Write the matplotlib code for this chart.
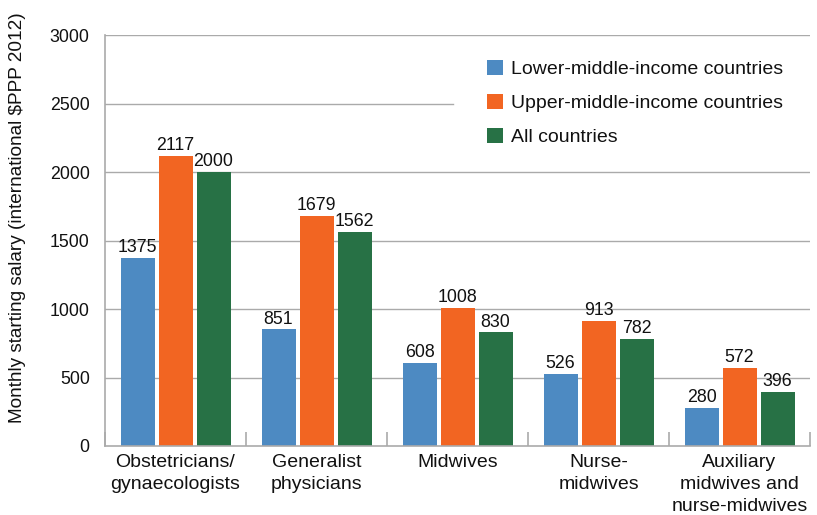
import matplotlib
matplotlib.use("Agg")
import matplotlib.pyplot as plt
import numpy as np
from matplotlib.patches import Patch

categories = ["Obstetricians/\ngynaecologists", "Generalist\nphysicians", "Midwives",
              "Nurse-\nmidwives", "Auxiliary\nmidwives and\nnurse-midwives"]
series_names = ["Lower-middle-income countries", "Upper-middle-income countries", "All countries"]
lower_middle = [1375, 851, 608, 526, 280]
upper_middle = [2117, 1679, 1008, 913, 572]
all_countries = [2000, 1562, 830, 782, 396]
yticks = [0, 500, 1000, 1500, 2000, 2500, 3000]
colors = ["#4d8ac2", "#f26522", "#277145"]

plt.rcParams['font.family'] = ['Liberation Sans', 'DejaVu Sans']

fig = plt.figure(figsize=(8.17, 5.15), dpi=100)
ax = fig.add_axes([105/817, 1-446/515, (810-105)/817, (446-35)/515])

x = np.arange(len(categories))
bw = 34/141
step = 38/141
gray = "#aaaaaa"

for yv in yticks[1:]:
    xmax = 0.494 if yv == 2500 else 1.0
    ax.axhline(yv, xmin=0, xmax=xmax, color=gray, lw=1.0, zorder=0)

for i, (vals, c) in enumerate(zip([lower_middle, upper_middle, all_countries], colors)):
    bars = ax.bar(x + (i-1)*step, vals, width=bw, color=c, zorder=2)
    for b, v in zip(bars, vals):
        ax.text(b.get_x()+b.get_width()/2, v+12, str(v), ha='center', va='bottom',
                fontsize=12.8, color='#111111')

ax.set_xlim(-0.5, len(categories)-0.5)
ax.set_ylim(0, 3000)
ax.set_yticks(yticks)
ax.set_yticklabels([str(t) for t in yticks], fontsize=12.8, color='#111111')
ax.tick_params(axis='y', length=0, pad=11)
ax.set_xticks(x)
ax.set_xticklabels(categories, fontsize=14, linespacing=1.36, color='#111111')
ax.tick_params(axis='x', length=0, pad=6)
ax.set_xticks(np.arange(-0.5, len(categories)), minor=True)
ax.tick_params(axis='x', which='minor', direction='in', length=10, color=gray, width=1.2)

for s in ['top', 'right']:
    ax.spines[s].set_visible(False)
for s in ['left', 'bottom']:
    ax.spines[s].set_color(gray)
    ax.spines[s].set_linewidth(1.2)

fig.text(18/817, 1-218/515, "Monthly starting salary (international $PPP 2012)",
         rotation=90, ha='center', va='center', fontsize=13.7, color='#111111')

handles = [Patch(facecolor=c, edgecolor='none') for c in colors]
leg = ax.legend(handles, series_names, loc='upper left', bbox_to_anchor=(0.542, 0.94),
                frameon=False, fontsize=14, handlelength=0.83, handleheight=0.83,
                handletextpad=0.4, labelspacing=0.8, borderpad=0, borderaxespad=0)
for t in leg.get_texts():
    t.set_color('#111111')
fig.savefig("out.png", dpi=100)
